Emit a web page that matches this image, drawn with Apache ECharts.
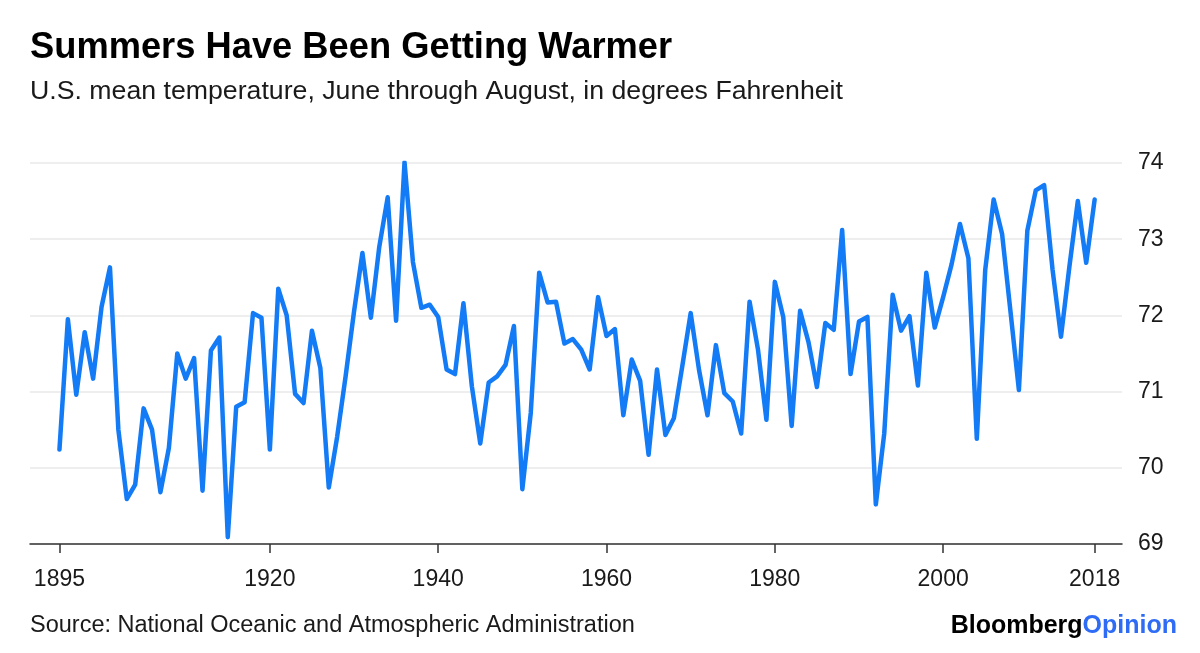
<!DOCTYPE html>
<html>
<head>
<meta charset="utf-8">
<script src="https://cdn.jsdelivr.net/npm/echarts@6/dist/echarts.min.js"></script>
<style>
    html, body { margin: 0; padding: 0; background: #fff; }
    #chart { width: 1200px; height: 653px; }
</style>
</head>
<body>
<div id="chart"></div>
<script>
    // summer (Jun-Aug) mean temperature, one value per year starting 1895
    var firstYear = 1895;
    var temps = [
        70.24, 71.95, 70.96, 71.78, 71.17, 72.11, 72.63, 70.50, 69.59, 69.78,
        70.78, 70.50, 69.68, 70.26, 71.50, 71.17, 71.44, 69.70, 71.54, 71.71,
        69.09, 70.80, 70.86, 72.03, 71.97, 70.24, 72.35, 72.00, 70.97, 70.85,
        71.80, 71.31, 69.74, 70.41, 71.20, 72.05, 72.82, 71.97, 72.90, 73.55,
        71.93, 74.01, 72.70, 72.10, 72.14, 71.98, 71.29, 71.23, 72.16, 71.07,
        70.32, 71.12, 71.20, 71.35, 71.86, 69.72, 70.72, 72.56, 72.17, 72.18,
        71.63, 71.69, 71.55, 71.29, 72.24, 71.73, 71.82, 70.69, 71.42, 71.14,
        70.17, 71.29, 70.43, 70.65, 71.33, 72.03, 71.28, 70.69, 71.61, 70.98,
        70.87, 70.45, 72.18, 71.55, 70.63, 72.44, 71.98, 70.55, 72.06, 71.65,
        71.06, 71.90, 71.81, 73.12, 71.23, 71.92, 71.98, 69.52, 70.45, 72.27,
        71.80, 71.99, 71.08, 72.56, 71.84, 72.24, 72.67, 73.20, 72.75, 70.38,
        72.60, 73.52, 73.07, 72.05, 71.02, 73.11, 73.64, 73.71, 72.60, 71.72,
        72.64, 73.50, 72.69, 73.52
    ];
    var yearTicks = [1895, 1920, 1940, 1960, 1980, 2000, 2018];

    var font = '"Liberation Sans", Arial, sans-serif';
    var chart = echarts.init(document.getElementById('chart'));

    var points = temps.map(function (t, i) { return [firstYear + i, t]; });

    chart.setOption({
        animation: false,
        textStyle: { fontFamily: font },
        grid: { left: 30, right: 78, top: 163, bottom: 109 },
        graphic: [
            {
                type: 'text', x: 30, y: 48,
                style: {
                    text: 'Summers Have Been Getting Warmer',
                    fill: '#000', font: 'bold 36.3px ' + font,
                    textAlign: 'left', textVerticalAlign: 'middle'
                }
            },
            {
                type: 'text', x: 30, y: 92,
                style: {
                    text: 'U.S. mean temperature, June through August, in degrees Fahrenheit',
                    fill: '#1a1a1a', font: '26.7px ' + font,
                    textAlign: 'left', textVerticalAlign: 'middle'
                }
            },
            {
                type: 'text', x: 30, y: 626,
                style: {
                    text: 'Source: National Oceanic and Atmospheric Administration',
                    fill: '#1a1a1a', font: '23.5px ' + font,
                    textAlign: 'left', textVerticalAlign: 'middle'
                }
            },
            {
                type: 'text', x: 1177, y: 626,
                style: {
                    text: '{b|Bloomberg}{o|Opinion}',
                    textAlign: 'right', textVerticalAlign: 'middle',
                    rich: {
                        b: { fill: '#000', font: 'bold 25px ' + font },
                        o: { fill: '#2f6cf5', font: 'bold 25px ' + font }
                    }
                }
            }
        ],
        xAxis: {
            type: 'value',
            min: 1891.5,
            max: 2021.25,
            splitLine: { show: false },
            axisLine: { show: true, onZero: false, lineStyle: { color: '#333', width: 1.5 } },
            axisTick: {
                show: true, length: 9, customValues: yearTicks,
                lineStyle: { color: '#333', width: 1.5 }
            },
            axisLabel: {
                customValues: yearTicks,
                margin: 24,
                fontSize: 23,
                color: '#1a1a1a',
                formatter: function (v) { return String(v); }
            }
        },
        yAxis: {
            type: 'value',
            position: 'right',
            min: 69,
            max: 74,
            interval: 1,
            axisLine: { show: false },
            axisTick: { show: false },
            axisLabel: { margin: 16, fontSize: 23, color: '#1a1a1a' },
            splitLine: { lineStyle: { color: '#e9e9e9', width: 1.5 } }
        },
        series: [{
            type: 'line',
            data: points,
            showSymbol: false,
            symbol: 'none',
            lineStyle: { color: '#137bf5', width: 4.5, cap: 'round', join: 'round' }
        }]
    });
</script>
</body>
</html>
